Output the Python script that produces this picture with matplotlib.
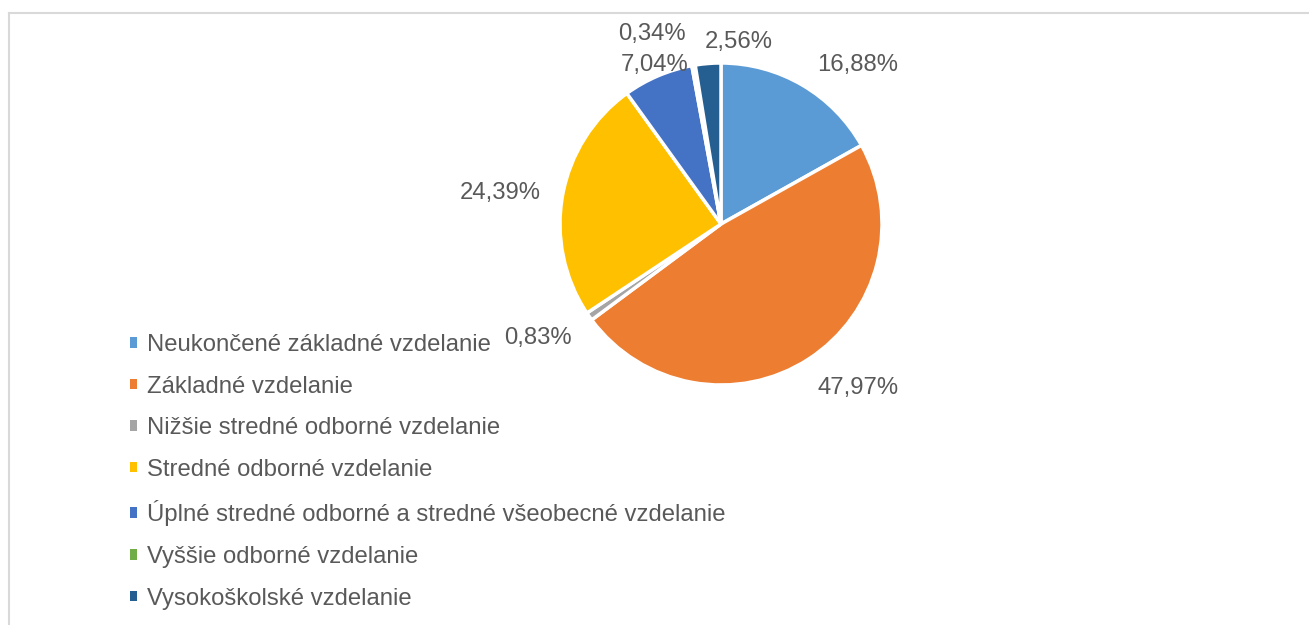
import matplotlib.pyplot as plt
from matplotlib.patches import Patch
from matplotlib.lines import Line2D

plt.rcParams['font.family'] = ['Liberation Sans', 'DejaVu Sans']

# Data
kategorie = ['Neukončené základné vzdelanie',
             'Základné vzdelanie',
             'Nižšie stredné odborné vzdelanie',
             'Stredné odborné vzdelanie',
             'Úplné stredné odborné a stredné všeobecné vzdelanie',
             'Vyššie odborné vzdelanie',
             'Vysokoškolské vzdelanie']
podiel = [16.88, 47.97, 0.83, 24.39, 7.04, 0.34, 2.56]
farby = ['#5B9BD5', '#ED7D31', '#A5A5A5', '#FFC000', '#4472C4', '#70AD47', '#255E91']

# label positions (in units of pie radius), as Excel placed them
pozicie = [(0.85, 0.99), (0.85, -1.02), (-1.14, -0.71), (-1.37, 0.19),
           (-0.41, 0.99), (-0.43, 1.18), (0.11, 1.13)]

W, H = 1309, 625
fig = plt.figure(figsize=(W / 100, H / 100), dpi=100)

cx, cy, r = 721, 224, 161
ax = fig.add_axes([(cx - r) / W, (H - cy - r) / H, 2 * r / W, 2 * r / H])

wedges, _ = ax.pie(podiel, colors=farby, startangle=90, counterclock=False,
                   wedgeprops=dict(edgecolor='white', linewidth=2.5))
ax.set_xlim(-1, 1)
ax.set_ylim(-1, 1)
ax.set_aspect('equal')
ax.axis('off')

fs = 17.2
for val, (x, y) in zip(podiel, pozicie):
    ax.text(x, y, '{:.2f}%'.format(val).replace('.', ','), ha='center', va='center',
            fontsize=fs, color='#595959', clip_on=False)

handles = [Patch(facecolor=c, edgecolor='none') for c in farby]
fig.legend(handles, kategorie, loc='upper left', bbox_to_anchor=(130 / W, 1 - 334 / H),
           frameon=False, fontsize=fs, labelcolor='#595959', handlelength=0.3,
           handleheight=0.3, handletextpad=0.4, labelspacing=0.82,
           borderpad=0, borderaxespad=0)

# chart frame (top and left edges visible)
fig.add_artist(Line2D([9 / W, 9 / W], [0, 1 - 12.5 / H], transform=fig.transFigure,
                      color='#d9d9d9', linewidth=1.5))
fig.add_artist(Line2D([9 / W, 1], [1 - 12.5 / H, 1 - 12.5 / H], transform=fig.transFigure,
                      color='#d9d9d9', linewidth=1.5))

fig.savefig('out.png', dpi=100, facecolor='white')
